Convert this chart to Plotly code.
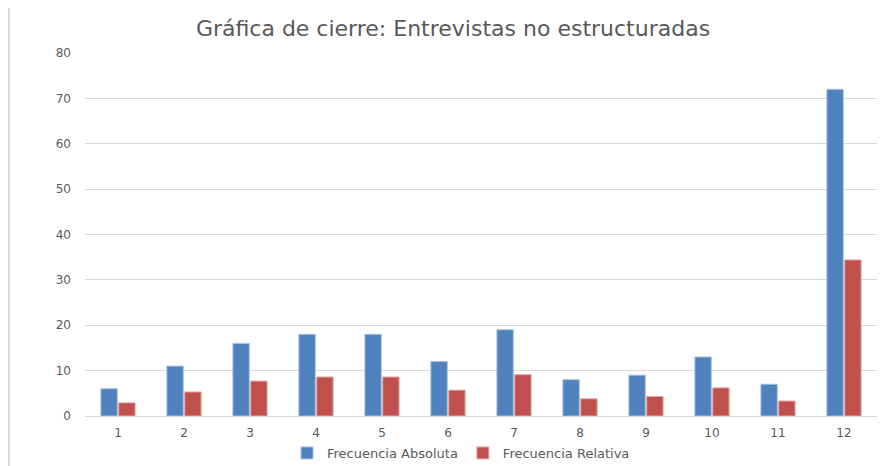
import plotly.graph_objects as go

categories = ["1", "2", "3", "4", "5", "6", "7", "8", "9", "10", "11", "12"]
frec_abs = [6, 11, 16, 18, 18, 12, 19, 8, 9, 13, 7, 72]
frec_rel = [2.9, 5.3, 7.7, 8.6, 8.6, 5.7, 9.1, 3.8, 4.3, 6.2, 3.3, 34.4]
y_ticks = [0, 10, 20, 30, 40, 50, 60, 70, 80]

FONT = "DejaVu Sans, Verdana, sans-serif"
W, H = 877, 458

fig = go.Figure()
fig.add_trace(go.Bar(x=categories, y=frec_abs, name="Frecuencia Absoluta",
                     marker=dict(color="#4F81BD", line=dict(color="#A7C0DE", width=1))))
fig.add_trace(go.Bar(x=categories, y=frec_rel, name="Frecuencia Relativa",
                     marker=dict(color="#C0504D", line=dict(color="#E3A9A7", width=1))))

fig.update_layout(
    width=W, height=H,
    margin=dict(l=77, r=8, t=45, b=50, autoexpand=False),
    paper_bgcolor="white", plot_bgcolor="white",
    font=dict(family=FONT, color="#595959", size=12),
    title=dict(text="Gráfica de cierre: Entrevistas no estructuradas", x=445 / W, xanchor="center",
               xref="container", y=1 - 20 / H, yref="container", yanchor="middle",
               font=dict(size=22, color="#595959", family=FONT)),
    barmode="group", bargap=0.46, bargroupgap=0.08,
    showlegend=True,
    legend=dict(orientation="h", x=453 / W, xanchor="center", xref="container",
                y=1 - 445 / H, yref="container", yanchor="middle",
                font=dict(size=13, color="#595959", family=FONT), itemwidth=30),
    xaxis=dict(type="category", showgrid=False, showline=True, linecolor="#D9D9D9",
               ticks="", ticklabelstandoff=6, tickfont=dict(size=12), automargin=False),
    yaxis=dict(range=[0, 80], tickvals=y_ticks, showgrid=True, gridcolor="#D9D9D9",
               zeroline=False, showline=False, ticks="", ticklabelstandoff=13,
               tickfont=dict(size=12), automargin=False),
    shapes=[dict(type="line", xref="paper", yref="paper", x0=-76 / 792, x1=-76 / 792,
                 y0=-50 / 363, y1=1 + 45 / 363, line=dict(color="#D9D9D9", width=2))],
)

fig.write_html("out.html")
